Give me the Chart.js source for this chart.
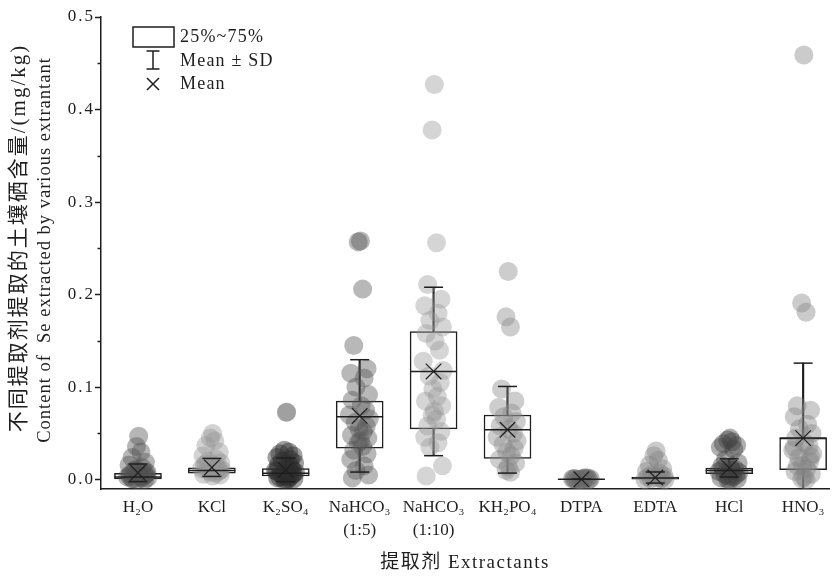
<!DOCTYPE html>
<html>
<head>
<meta charset="utf-8">
<script src="https://cdn.jsdelivr.net/npm/chart.js@4.4.1/dist/chart.umd.min.js"></script>
<style>
  html, body { margin: 0; padding: 0; background: #fff; overflow: hidden; }
  #wrap { width: 834px; height: 576px; }
</style>
</head>
<body>
<div id="wrap"><canvas id="chart"></canvas></div>
<script>
// --- Data ---
const CATEGORIES = [['H₂O'], ['KCl'], ['K₂SO₄'], ['NaHCO₃', '(1:5)'], ['NaHCO₃', '(1:10)'], ['KH₂PO₄'], ['DTPA'], ['EDTA'], ['HCl'], ['HNO₃']];

const H2O = [0.047, 0.036, 0.030, 0.024, 0.019, 0.016, 0.013, 0.010, 0.008, 0.006, 0.005, 0.004, 0.003, 0.002, 0.001, 0.000, 0.000, 0.002, 0.004, 0.007, 0.009, 0.011, 0.003, 0.001, 0.005];
const KCL = [0.050, 0.045, 0.042, 0.037, 0.030, 0.026, 0.022, 0.020, 0.018, 0.016, 0.014, 0.013, 0.012, 0.011, 0.010, 0.009, 0.008, 0.007, 0.006, 0.005, 0.004, 0.012, 0.015, 0.017, 0.010];
const K2SO4 = [0.073, 0.032, 0.030, 0.028, 0.026, 0.024, 0.022, 0.020, 0.018, 0.016, 0.014, 0.012, 0.010, 0.008, 0.006, 0.005, 0.004, 0.003, 0.002, 0.001, 0.000, 0.000, 0.001, 0.003, 0.007, 0.009, 0.015];
const NAHCO3_5 = [0.258, 0.257, 0.206, 0.145, 0.120, 0.115, 0.110, 0.100, 0.092, 0.086, 0.080, 0.075, 0.070, 0.066, 0.062, 0.058, 0.055, 0.052, 0.048, 0.045, 0.042, 0.040, 0.036, 0.032, 0.028, 0.022, 0.015, 0.010, 0.005, 0.002];
const NAHCO3_10 = [0.427, 0.378, 0.256, 0.211, 0.195, 0.188, 0.180, 0.172, 0.165, 0.158, 0.150, 0.140, 0.128, 0.118, 0.112, 0.105, 0.098, 0.090, 0.085, 0.080, 0.074, 0.070, 0.065, 0.058, 0.052, 0.046, 0.040, 0.035, 0.015, 0.004];
const KH2PO4 = [0.225, 0.176, 0.165, 0.098, 0.085, 0.078, 0.072, 0.068, 0.063, 0.058, 0.055, 0.050, 0.046, 0.042, 0.038, 0.034, 0.030, 0.026, 0.022, 0.018, 0.014, 0.010, 0.008];
const DTPA = [0.001, 0.000, 0.002, 0.001, 0.000, 0.001, 0.002, 0.000, 0.001, 0.001, 0.000, 0.002];
const EDTA = [0.031, 0.026, 0.021, 0.016, 0.012, 0.009, 0.007, 0.005, 0.004, 0.003, 0.002, 0.001, 0.000, 0.000, 0.001, 0.002];
const HCL = [0.045, 0.043, 0.041, 0.039, 0.037, 0.035, 0.033, 0.022, 0.018, 0.015, 0.013, 0.011, 0.009, 0.008, 0.006, 0.005, 0.004, 0.003, 0.002, 0.001, 0.000, 0.000, 0.010, 0.012];
const HNO3 = [0.459, 0.191, 0.181, 0.080, 0.075, 0.068, 0.060, 0.055, 0.050, 0.045, 0.040, 0.036, 0.032, 0.028, 0.024, 0.020, 0.016, 0.012, 0.009, 0.006, 0.003, 0.001, 0.000, 0.015, 0.025, 0.035];
const SAMPLES = [H2O, KCL, K2SO4, NAHCO3_5, NAHCO3_10, KH2PO4, DTPA, EDTA, HCL, HNO3];

// box statistics (25%, median, 75%) and mean / SD
const Q1 = [0.001, 0.007, 0.004, 0.034, 0.055, 0.023, 0.0005, 0.000, 0.0065, 0.011];
const MEDIAN = [0.003, 0.010, 0.007, 0.068, 0.117, 0.054, 0.0005, 0.002, 0.010, 0.045];
const Q3 = [0.007, 0.013, 0.012, 0.085, 0.160, 0.070, 0.0005, 0.003, 0.0126, 0.045];
const MEAN = [0.0075, 0.0133, 0.0107, 0.069, 0.117, 0.054, 0.0005, 0.0024, 0.0128, 0.045];
const SD = [0.0095, 0.0097, 0.0127, 0.0607, 0.091, 0.0468, 0, 0.006, 0.0098, 0.081];

const Y_TICKS = [0, 0.05, 0.1, 0.15, 0.2, 0.25, 0.3, 0.35, 0.4, 0.45, 0.5];

// --- Styles ---
const INK = '#1e1e1e';
const SERIF = "'Liberation Serif', 'DejaVu Serif', serif";
const DOT_COLORS = [
    'rgba(80, 80, 80, 0.42)',
    'rgba(150, 150, 150, 0.42)',
    'rgba(45, 45, 45, 0.45)',
    'rgba(85, 85, 85, 0.42)',
    'rgba(150, 150, 150, 0.4)',
    'rgba(135, 135, 135, 0.42)',
    'rgba(105, 105, 105, 0.45)',
    'rgba(130, 130, 130, 0.42)',
    'rgba(65, 65, 65, 0.42)',
    'rgba(130, 130, 130, 0.42)'
];
// horizontal spread of the dots around each category
const JITTER = [0.01, -0.02, 0.04, -0.08, 0.1, -0.12, 0.06, -0.05, 0.12, -0.1, 0.02, 0.08, -0.14, 0.13, -0.06, 0.09, -0.01, 0.05, -0.11, 0.11];

const isMajor = v => Math.abs(Math.round(v * 10) - v * 10) < 1e-6;

// --- Build datasets ---
const idx = CATEGORIES.map((_, i) => i);

const dotSets = SAMPLES.map((vals, i) => ({
    type: 'scatter',
    data: vals.map((v, k) => ({ x: i + JITTER[k % JITTER.length], y: v })),
    backgroundColor: DOT_COLORS[i],
    borderWidth: 0,
    pointRadius: 9.5,
    pointHoverRadius: 9.5,
    order: 3
}));

const datasets = [
    {
        type: 'bar',
        data: idx.map(i => ({ x: i, y: [MEAN[i] - SD[i], MEAN[i] + SD[i]] })),
        backgroundColor: INK,
        barThickness: 1.5,
        grouped: false,
        order: 6
    },
    {
        type: 'bar',
        data: idx.map(i => ({ x: i, y: [Q1[i], Q3[i]] })),
        backgroundColor: '#ffffff',
        borderColor: INK,
        borderWidth: 1.5,
        borderSkipped: false,
        barThickness: 47,
        grouped: false,
        order: 5
    },
    ...dotSets,
    {
        type: 'scatter',
        data: idx.map(i => ({ x: i, y: MEDIAN[i] })),
        pointStyle: 'line',
        pointRadius: 23.5,
        borderColor: INK,
        borderWidth: 1.5,
        order: 2
    },
    {
        type: 'scatter',
        data: idx.flatMap(i => [{ x: i, y: MEAN[i] + SD[i] }, { x: i, y: MEAN[i] - SD[i] }]),
        pointStyle: 'line',
        pointRadius: 9.5,
        borderColor: INK,
        borderWidth: 1.5,
        order: 1
    },
    {
        type: 'scatter',
        data: idx.map(i => ({ x: i, y: MEAN[i] })),
        pointStyle: 'crossRot',
        pointRadius: 11,
        borderColor: INK,
        borderWidth: 1.2,
        order: 0
    }
];

// --- Plugins: minor ticks, axis titles, legend ---
const decorations = {
    id: 'decorations',
    afterDraw(chart) {
        const { ctx, scales: { y }, chartArea } = chart;
        ctx.save();

        // minor y ticks
        ctx.strokeStyle = INK;
        ctx.lineWidth = 1.5;
        Y_TICKS.filter(v => !isMajor(v)).forEach(v => {
            const py = Math.round(y.getPixelForValue(v)) + 0.5;
            ctx.beginPath();
            ctx.moveTo(chartArea.left - 3.5, py);
            ctx.lineTo(chartArea.left, py);
            ctx.stroke();
        });

        // y title (two lines)
        ctx.fillStyle = INK;
        ctx.textAlign = 'center';
        ctx.textBaseline = 'middle';
        ctx.save();
        ctx.translate(19, 238);
        ctx.rotate(-Math.PI / 2);
        ctx.letterSpacing = '2px';
        ctx.font = `21px ${SERIF}, 'Noto Sans CJK SC'`;
        ctx.fillText('不同提取剂提取的土壤硒含量/(mg/kg)', 0, 0);
        ctx.restore();
        ctx.save();
        ctx.translate(45, 250);
        ctx.rotate(-Math.PI / 2);
        ctx.letterSpacing = '1px';
        ctx.font = `18.5px ${SERIF}`;
        ctx.fillText('Content of  Se extracted by various extrantant', 0, 0);
        ctx.restore();

        // x title
        ctx.save();
        ctx.letterSpacing = '1.5px';
        ctx.font = `19px ${SERIF}, 'Noto Sans CJK SC'`;
        ctx.fillText('提取剂 Extractants', 465, 563);
        ctx.restore();

        // legend
        ctx.lineWidth = 1.5;
        ctx.strokeStyle = INK;
        ctx.strokeRect(133, 27, 41, 20);
        ctx.beginPath();
        ctx.moveTo(153, 51); ctx.lineTo(153, 69);
        ctx.moveTo(146.5, 51); ctx.lineTo(159.5, 51);
        ctx.moveTo(146.5, 69); ctx.lineTo(159.5, 69);
        ctx.moveTo(147, 78); ctx.lineTo(159, 90);
        ctx.moveTo(159, 78); ctx.lineTo(147, 90);
        ctx.stroke();
        ctx.textAlign = 'left';
        ctx.letterSpacing = '1.2px';
        ctx.font = `18px ${SERIF}`;
        ctx.fillText('25%~75%', 180, 37);
        ctx.fillText('Mean ± SD', 180, 61);
        ctx.fillText('Mean', 180, 84);

        ctx.restore();
    }
};

new Chart(document.getElementById('chart'), {
    data: { datasets },
    options: {
        responsive: true,
        maintainAspectRatio: false,
        animation: false,
        events: [],
        layout: { autoPadding: false, padding: { top: 17, right: 5, left: 0, bottom: 0 } },
        plugins: { legend: { display: false }, tooltip: { enabled: false } },
        scales: {
            x: {
                type: 'linear',
                offset: false,
                min: -0.5,
                max: 9.35,
                afterBuildTicks: scale => { scale.ticks = idx.map(v => ({ value: v })); },
                afterFit: scale => { scale.height = 87; },
                grid: { display: false, drawTicks: false },
                border: { display: true, color: INK, width: 1.5 },
                ticks: {
                    autoSkip: false,
                    maxRotation: 0,
                    padding: 7,
                    color: INK,
                    font: { family: SERIF, size: 17, lineHeight: 1.35 },
                    callback: v => CATEGORIES[v] || ''
                }
            },
            y: {
                type: 'linear',
                min: -0.01,
                max: 0.5,
                afterBuildTicks: scale => { scale.ticks = Y_TICKS.map(v => ({ value: v })); },
                afterFit: scale => {
                    scale.width = 101;
                    if (!scale._spaced) {
                        // slightly wider digit spacing, as in the original figure
                        const drawLabels = scale.drawLabels.bind(scale);
                        scale.drawLabels = area => {
                            scale.ctx.save();
                            scale.ctx.letterSpacing = '2px';
                            drawLabels(area);
                            scale.ctx.restore();
                        };
                        scale._spaced = true;
                    }
                },
                grid: {
                    drawOnChartArea: false,
                    tickLength: 6,
                    tickWidth: 1.5,
                    tickColor: c => (c.tick && isMajor(c.tick.value)) ? INK : 'rgba(0,0,0,0)'
                },
                border: { display: true, color: INK, width: 1.5 },
                ticks: {
                    padding: 0,
                    color: INK,
                    font: { family: SERIF, size: 17 },
                    callback: v => isMajor(v) ? v.toFixed(1) : ''
                }
            }
        }
    },
    plugins: [decorations]
});
</script>
</body>
</html>
